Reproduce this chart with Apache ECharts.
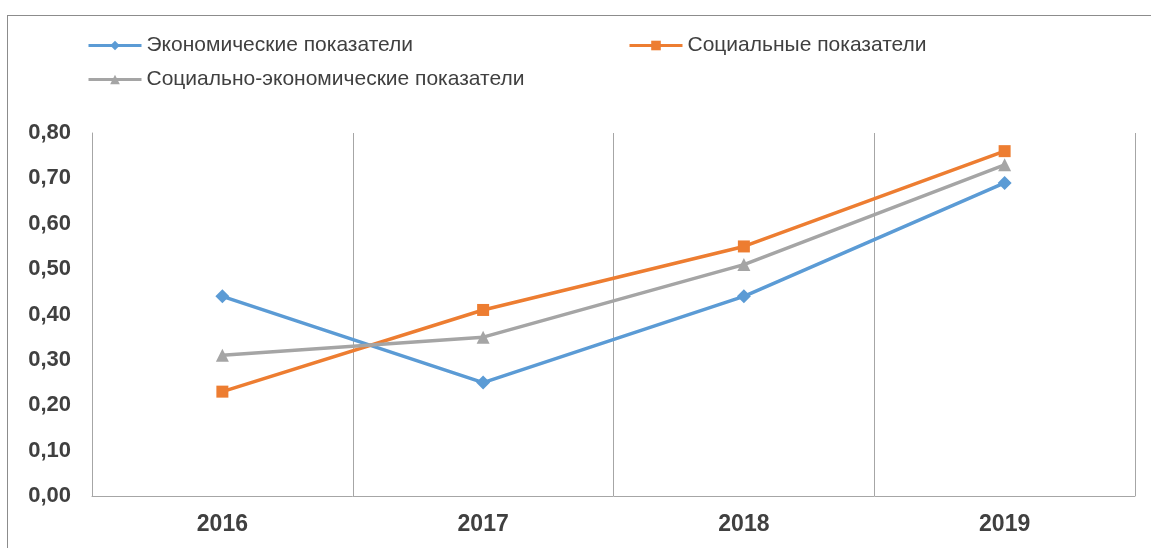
<!DOCTYPE html>
<html>
<head>
<meta charset="utf-8">
<script src="https://cdn.jsdelivr.net/npm/echarts@6/dist/echarts.min.js"></script>
<style>
html,body{margin:0;padding:0;background:#fff;}
#frame{position:absolute;left:7px;top:15px;width:1170px;height:560px;border:1px solid #8c8c8c;box-sizing:border-box;}
#chart{position:absolute;left:0;top:0;width:1151px;height:548px;}
</style>
</head>
<body>
<div id="frame"></div>
<div id="chart"></div>
<script>
const categories = ['2016', '2017', '2018', '2019'];
const economic = [0.44, 0.25, 0.44, 0.69];
const social = [0.23, 0.41, 0.55, 0.76];
const socioEconomic = [0.31, 0.35, 0.51, 0.73];
const yTicks = [0, 0.1, 0.2, 0.3, 0.4, 0.5, 0.6, 0.7, 0.8];

const names = ['Экономические показатели', 'Социальные показатели', 'Социально-экономические показатели'];
const colors = ['#5B9BD5', '#ED7D31', '#A5A5A5'];

const chart = echarts.init(document.getElementById('chart'));
const legendBase = {
  itemWidth: 53,
  itemHeight: 12,
  itemGap: 0,
  lineStyle: { width: 3 },
  textStyle: { fontFamily: 'Liberation Sans, Arial', fontSize: 21, color: '#404040' },
  padding: 0
};
chart.setOption({
  animation: false,
  backgroundColor: 'transparent',
  legend: [
    Object.assign({}, legendBase, { left: 87, top: 35, data: [names[0]] }),
    Object.assign({}, legendBase, { left: 628, top: 35, data: [names[1]] }),
    Object.assign({}, legendBase, { left: 87, top: 69, data: [names[2]] })
  ],
  grid: { left: 92, right: 16, top: 133, bottom: 52, containLabel: false },
  xAxis: {
    type: 'category',
    data: categories,
    boundaryGap: true,
    axisLine: { show: true, lineStyle: { color: '#a6a6a6', width: 1 } },
    axisTick: { show: false },
    splitLine: { show: true, lineStyle: { color: '#a6a6a6', width: 1 } },
    axisLabel: { fontFamily: 'Liberation Sans, Arial', fontWeight: 'bold', fontSize: 23, color: '#404040', margin: 17 }
  },
  yAxis: {
    type: 'value',
    min: yTicks[0],
    max: yTicks[yTicks.length - 1],
    interval: 0.1,
    axisLine: { show: true, lineStyle: { color: '#a6a6a6', width: 1 } },
    axisTick: { show: false },
    splitLine: { show: false },
    axisLabel: {
      fontFamily: 'Liberation Sans, Arial', fontWeight: 'bold', fontSize: 22, color: '#404040', margin: 21,
      formatter: v => v.toFixed(2).replace('.', ',')
    }
  },
  series: [
    { name: names[0], type: 'line', data: economic, color: colors[0], symbol: 'diamond', symbolSize: 14,
      lineStyle: { width: 3.5 }, itemStyle: { color: colors[0] } },
    { name: names[1], type: 'line', data: social, color: colors[1], symbol: 'rect', symbolSize: 12,
      lineStyle: { width: 3.5 }, itemStyle: { color: colors[1] } },
    { name: names[2], type: 'line', data: socioEconomic, color: colors[2], symbol: 'triangle', symbolSize: 13,
      lineStyle: { width: 3.5 }, itemStyle: { color: colors[2] } }
  ]
});
</script>
</body>
</html>
